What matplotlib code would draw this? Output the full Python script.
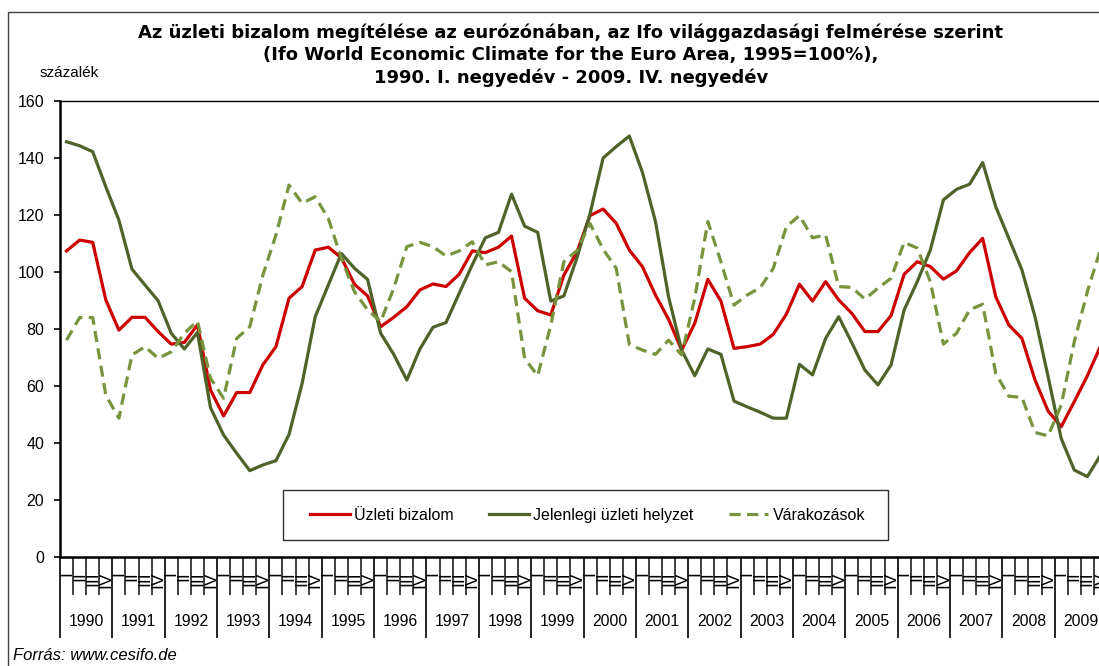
import matplotlib.pyplot as plt
import matplotlib.patches as patches
import numpy as np

plt.rcParams['font.family'] = ['Liberation Sans', 'DejaVu Sans']

# quarterly data, 1990 Q1 - 2009 Q4
years = list(range(1990, 2010))
quarter_labels = ['I', 'II', 'III', 'IV']

business_climate = [
    107.4, 111.2, 110.4, 90.2,
    79.6, 84.1, 84.1, 79.1,
    74.7, 75.3, 81.4, 58.6,
    49.5, 57.7, 57.7, 67.4,
    73.8, 90.8, 94.9, 107.7,
    108.7, 105.0, 95.7, 91.6,
    80.8, 84.1, 87.8, 93.7,
    95.8, 94.9, 99.2, 107.4,
    106.8, 108.7, 112.6, 90.8,
    86.4, 84.9, 98.9, 107.0,
    119.8, 122.1, 117.1, 107.7,
    101.9, 91.9, 83.4, 72.6,
    82.0, 97.4, 89.8, 73.2,
    73.8, 74.7, 78.1, 85.2,
    95.7, 89.8, 96.6, 90.2,
    85.5, 79.1, 79.1, 84.7,
    99.2, 103.6, 101.9, 97.5,
    100.4, 106.8, 111.8, 91.3,
    81.4, 76.7, 62.1, 51.2,
    45.7, 54.5, 63.6, 74.0,
]

present_situation = [
    145.7, 144.3, 142.2, 129.9,
    118.2, 101.0, 95.4, 89.9,
    78.5, 73.0, 78.8, 52.4,
    42.8, 36.4, 30.3, 32.3,
    33.8, 43.0, 60.9, 84.3,
    95.4, 106.5, 101.3, 97.4,
    78.5, 71.1, 62.1, 73.0,
    80.6, 82.3, 92.5, 102.5,
    112.0, 113.9, 127.3, 116.1,
    113.9, 89.8, 91.6, 105.0,
    120.5, 140.0, 144.0, 147.7,
    135.0, 117.7, 91.3, 72.6,
    63.6, 73.0, 71.1, 54.7,
    52.7, 50.8, 48.7, 48.7,
    67.6, 63.9, 76.7, 84.3,
    75.2, 65.6, 60.4, 67.4,
    86.7, 96.6, 107.7, 125.3,
    129.0, 130.8, 138.4, 122.9,
    111.8, 100.7, 84.3, 63.3,
    41.6, 30.5, 28.2, 35.7,
]

expectations = [
    76.1, 84.0, 84.0, 56.8,
    48.7, 70.9, 73.8, 69.7,
    72.0, 78.5, 82.8, 62.7,
    55.7, 76.7, 80.8, 98.9,
    113.0, 130.5, 124.1, 126.4,
    118.8, 104.8, 93.1, 86.7,
    82.6, 94.3, 108.9, 110.4,
    108.9, 105.6, 107.4, 110.6,
    102.5, 103.6, 100.1, 69.7,
    63.6, 81.4, 103.6, 107.5,
    117.0, 108.0, 101.3, 74.6,
    72.6, 71.1, 76.1, 70.9,
    90.8, 117.7, 103.6, 88.4,
    91.9, 94.5, 101.3, 115.9,
    119.8, 112.0, 113.0, 94.9,
    94.6, 90.5, 94.3, 97.8,
    110.4, 108.4, 96.6, 74.7,
    78.5, 86.7, 88.7, 64.4,
    56.4, 56.0, 43.7, 42.5,
    53.3, 75.5, 93.1, 108.0,
]

series_names = ['Üzleti bizalom', 'Jelenlegi üzleti helyzet', 'Várakozások']
title = ('Az üzleti bizalom megítélése az eurózónában, az Ifo világgazdasági felmérése szerint\n'
         '(Ifo World Economic Climate for the Euro Area, 1995=100%),\n'
         '1990. I. negyedév - 2009. IV. negyedév')

W, H = 1099, 666
fig = plt.figure(figsize=(W / 100, H / 100), dpi=100)
# plot area runs a little past the right edge of the picture, as in the original
ax = fig.add_axes([60 / W, 1 - 557 / H, 1047 / W, 456 / H])

n = len(business_climate)
x = np.arange(n) + 0.5

ax.plot(x, business_climate, color='#CC0000', lw=2.3, label=series_names[0])
ax.plot(x, present_situation, color='#4F6228', lw=2.3, label=series_names[1])
ax.plot(x, expectations, color='#77933C', lw=2.3, dashes=(3.5, 2), label=series_names[2])

ax.set_xlim(0, n)
ax.set_ylim(0, 160)
ax.set_yticks(np.arange(0, 161, 20))
ax.tick_params(axis='y', direction='out', length=4.5, width=1.2, pad=7, labelsize=11.5)

# category axis: quarter ticks short, year ticks long
ax.set_xticks(np.arange(0, n + 1, 4))
ax.set_xticks(np.arange(0, n + 1, 1), minor=True)
ax.tick_params(axis='x', which='major', direction='out', length=58, width=1.2,
               labelbottom=False, color='black')
ax.tick_params(axis='x', which='minor', direction='out', length=27.5, width=1.2,
               color='#202020')

# quarter numerals are drawn sideways, as in the source workbook
trans = ax.get_xaxis_transform()
for i in range(n):
    ax.text(i + 0.5, -14 / 456, quarter_labels[i % 4], transform=trans,
            rotation=90, ha='center', va='top', fontsize=12.5, clip_on=False)
for k, yr in enumerate(years):
    ax.text(4 * k + 2, -64 / 456, str(yr), transform=trans,
            ha='center', va='center', fontsize=11.3, clip_on=False)

for side in ['left', 'bottom']:
    ax.spines[side].set_linewidth(1.8)
ax.spines['top'].set_linewidth(1.0)
ax.spines['right'].set_visible(False)

# legend box is wider than the legend's own padding would give
box = patches.Rectangle((223 / 1047, 17 / 456), 605 / 1047, 50 / 456, transform=ax.transAxes,
                        facecolor='white', edgecolor='#303030', lw=1.0, zorder=4)
ax.add_patch(box)
leg = ax.legend(loc='center', bbox_to_anchor=(0.504, 0.092), ncol=3, fontsize=11.5,
                frameon=False, handlelength=2.5, handletextpad=0.25,
                columnspacing=2.2, borderpad=0.5)
leg.set_zorder(5)

fig.text(571 / W, 1 - 55.5 / H, title, ha='center', va='center', fontsize=13.0,
         fontweight='bold', linespacing=1.3, family='DejaVu Sans')
fig.text(40 / W, 1 - 73 / H, 'százalék', ha='left', va='center', fontsize=11)
fig.text(13 / W, 1 - 656 / H, 'Forrás: www.cesifo.de', ha='left', va='center',
         fontsize=12, style='italic')

# outer frame of the chart object
frame = patches.Rectangle((8 / W, -0.5), 2.0, 0.5 + 1 - 12 / H, transform=fig.transFigure,
                          fill=False, ec='#404040', lw=1.0)
fig.add_artist(frame)

fig.savefig('out.png', dpi=100)
